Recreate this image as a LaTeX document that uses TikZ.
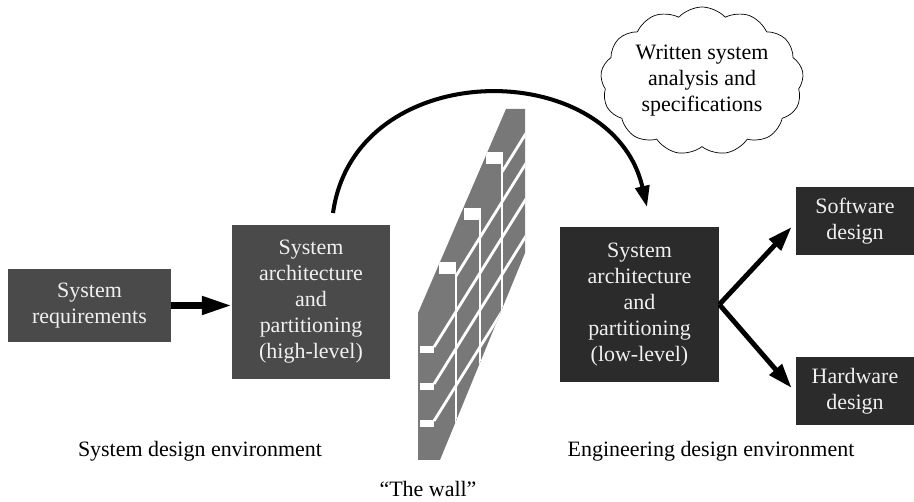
\documentclass[tikz,border=0pt]{standalone}
\usepackage{fontspec}
\setmainfont{Liberation Serif}
\usetikzlibrary{positioning,arrows.meta,shapes.symbols}
\definecolor{boxGray}{RGB}{74,74,74}
\definecolor{boxDark}{RGB}{43,43,43}
\definecolor{wallGray}{RGB}{120,120,120}
\definecolor{boxText}{RGB}{240,240,240}
\tikzstyle{pixels} = [x = 0.02cm, y = -0.02cm]
\tikzstyle{blockStyle} = [rectangle, inner sep = 0pt, align = center, text = boxText, font = \fontsize{12.5}{14.8}\selectfont]
\tikzstyle{systemBlock} = [blockStyle, fill = boxGray]
\tikzstyle{engineeringBlock} = [blockStyle, fill = boxDark]
\tikzstyle{flowArrow} = [line width = 3.5pt, -{Triangle[length = 17pt, width = 10pt]}]
\tikzstyle{branchArrow} = [line width = 2.8pt, -{Triangle[length = 14pt, width = 9pt]}]
\tikzstyle{overArrow} = [line width = 2.3pt, -{Triangle[length = 12pt, width = 8pt]}]
\tikzstyle{envLabel} = [font = \fontsize{12.5}{14.8}\selectfont]
\tikzstyle{noteCloud} = [cloud, draw, thin, cloud puffs = 13, cloud puff arc = 95, cloud ignores aspect, inner sep = 0pt, minimum width = 4.06cm, minimum height = 2.96cm, align = center, font = \fontsize{12.5}{14.8}\selectfont]
\tikzstyle{mortar} = [white, line width = 1.6pt]
\tikzset{wallOutline/.style = {insert path = {(506,109) -- (525,109) -- (525,253) -- (440,460) -- (418,460) -- (418,313) -- cycle}}}
\newcommand{\brickTop}[2]{\fill [white] (#1,#2) rectangle +(17,12);}
\newcommand{\brickEnd}[1]{\fill [white] (420,#1) rectangle +(14,7);}
\newcommand{\mortarJoint}[2]{\draw [mortar] (#1,#2) -- (#1,470);}
\newcommand{\mortarCourse}[2]{\draw [mortar] (#1,#2) -- ++(115,-185);}

\begin{document}
\begin{tikzpicture}[pixels]
        \useasboundingbox (0,0) rectangle (914,502);

        % the blocks
        \node [systemBlock, minimum width = 3.26cm, minimum height = 1.46cm] (sysReq) at (89.5,305.5) {System\\requirements};
        \node [systemBlock, minimum width = 3.16cm, minimum height = 3.08cm] (highLevel) at (311,302) {System\\architecture\\and\\partitioning\\(high-level)};
        \node [engineeringBlock, minimum width = 3.18cm, minimum height = 3.1cm] (lowLevel) at (639.5,304.5) {System\\architecture\\and\\partitioning\\(low-level)};
        \node [engineeringBlock, minimum width = 2.36cm, minimum height = 1.36cm] (software) at (855,221) {Software\\design};
        \node [engineeringBlock, minimum width = 2.36cm, minimum height = 1.36cm] (hardware) at (855,391) {Hardware\\design};
        \node [noteCloud] (notes) at (702,81) {Written system\\analysis and\\specifications};

        % connectors
        \draw [flowArrow] (sysReq.east) -- (sysReq.east -| highLevel.west);
        \draw [branchArrow] (lowLevel.east) -- ([xshift = -0.08cm, yshift = -0.12cm]software.west);
        \draw [branchArrow] (lowLevel.east) -- ([xshift = -0.08cm, yshift = 0.06cm]hardware.west);
        \coordinate (liftOff) at (333,213);
        \coordinate (landing) at (647,207);
        \draw [overArrow] (liftOff) .. controls (355,55) and (612,55) .. (landing);

        % the wall
        \fill [wallGray, wallOutline];
        \begin{scope}
          \clip [wallOutline];
          \brickTop{486}{152}
          \brickTop{464}{208}
          \brickTop{439}{262}
          \mortarJoint{502}{163}
          \mortarJoint{480}{219}
          \mortarJoint{456}{273}
          \brickEnd{346}
          \brickEnd{383}
          \brickEnd{420}
          \mortarCourse{502}{172}
          \mortarCourse{456}{276}
          \mortarCourse{434}{347}
          \mortarCourse{434}{384}
          \mortarCourse{434}{421}
        \end{scope}

        % labels
        \node [envLabel] (systemEnv) at (200,451) {System design environment};
        \node [envLabel] (engineeringEnv) at (711,451) {Engineering design environment};
        \node [envLabel] (wallName) at (428,489) {“The wall”};
\end{tikzpicture}
\end{document}
